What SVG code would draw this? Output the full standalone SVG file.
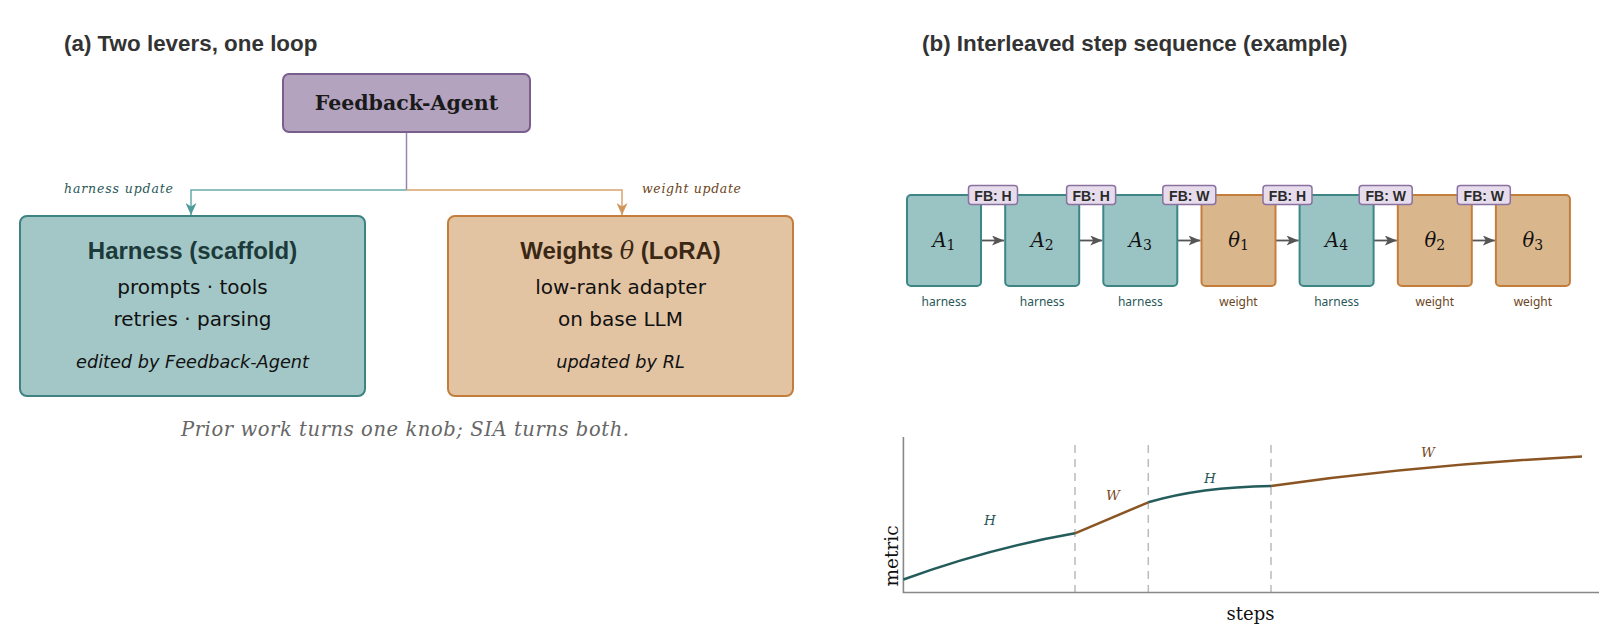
<svg xmlns="http://www.w3.org/2000/svg" width="1624" height="640" viewBox="0 0 1624 640">
<style>
.title{font-family:"Liberation Sans",Arial,sans-serif;font-weight:bold;font-size:22.4px;fill:#333}
.serif{font-family:"DejaVu Serif",serif}
.bigT{font-family:"Liberation Sans",Arial,sans-serif;font-weight:bold;font-size:24px}
.body{font-family:"DejaVu Sans",sans-serif;font-size:20px;fill:#111}
.ital{font-family:"DejaVu Sans",sans-serif;font-style:italic;font-size:17.7px;fill:#111}
.fb rect{fill:#e7dcec;stroke:#8a72a0;stroke-width:1.5}
.fb text{font-family:"Liberation Sans",Arial,sans-serif;font-weight:bold;font-size:14px;fill:#2a2a2a}
.hbox{fill:#9ac3c3;stroke:#3e8686;stroke-width:2}
.wbox{fill:#dab68c;stroke:#c47e3c;stroke-width:2}
.math{font-family:"DejaVu Serif",serif;font-style:italic;font-size:19.5px;fill:#111}
.sub{font-family:"DejaVu Serif",serif;font-style:normal;font-size:14px}
.lblh{font-family:"Noto Sans",sans-serif;font-size:12px;fill:#2a5858}
.lblw{font-family:"Noto Sans",sans-serif;font-size:12px;fill:#6b4520}
.seq{stroke:#555;stroke-width:1.8;fill:none}
.dash{stroke:#bbb;stroke-width:1.5;stroke-dasharray:8,6;fill:none}
.axis{stroke:#888;stroke-width:1.6;fill:none}
.ch{font-family:"DejaVu Serif",serif;font-style:italic;font-size:13.5px}
</style>
<defs>
<marker id="arrG" markerWidth="14" markerHeight="12" refX="12" refY="5" orient="auto" markerUnits="userSpaceOnUse">
<path d="M0,0 L12,5 L0,10 L3,5 z" fill="#555"/>
</marker>
<marker id="arrT" markerWidth="12" markerHeight="14" refX="5.5" refY="12" orient="0" markerUnits="userSpaceOnUse">
<path d="M0,0 L5.5,12 L11,0 L5.5,3.5 z" fill="#4f9a9a"/>
</marker>
<marker id="arrO" markerWidth="12" markerHeight="14" refX="5.5" refY="12" orient="0" markerUnits="userSpaceOnUse">
<path d="M0,0 L5.5,12 L11,0 L5.5,3.5 z" fill="#cf9658"/>
</marker>
</defs>
<rect width="1624" height="640" fill="#fff"/>

<text class="title" x="64" y="51">(a) Two levers, one loop</text>
<text class="title" x="922" y="51">(b) Interleaved step sequence (example)</text>

<g id="connectors">
<path d="M406.5,132 V190" stroke="#9a84ab" stroke-width="1.5" fill="none"/>
<path d="M406.5,190 H191 V215" stroke="#6aaaaa" stroke-width="1.5" fill="none" marker-end="url(#arrT)"/>
<path d="M406.5,190 H622 V215" stroke="#d8a46e" stroke-width="1.5" fill="none" marker-end="url(#arrO)"/>
<text class="serif" x="64" y="193" font-style="italic" font-size="12.5" fill="#2a5858" textLength="109">harness update</text>
<text class="serif" x="642" y="193" font-style="italic" font-size="12.5" fill="#6b4520" textLength="99">weight update</text>
<path class="seq" d="M981,240.5 H1004" marker-end="url(#arrG)"/>
<path class="seq" d="M1079.2,240.5 H1102.3" marker-end="url(#arrG)"/>
<path class="seq" d="M1177.3,240.5 H1200.5" marker-end="url(#arrG)"/>
<path class="seq" d="M1275.5,240.5 H1298.6" marker-end="url(#arrG)"/>
<path class="seq" d="M1373.6,240.5 H1396.8" marker-end="url(#arrG)"/>
<path class="seq" d="M1471.8,240.5 H1494.9" marker-end="url(#arrG)"/>
</g>

<g id="feedback-agent">
<rect x="283" y="74" width="247" height="58" rx="6" fill="#b3a3bf" stroke="#7a5f8e" stroke-width="2"/>
<text class="serif" x="406.5" y="110" text-anchor="middle" font-weight="bold" font-size="20.5" fill="#1a1a1a">Feedback-Agent</text>
</g>

<g id="harness">
<rect x="20" y="216" width="345" height="180" rx="7" fill="#a3c7c7" stroke="#3e8282" stroke-width="2"/>
<text class="bigT" x="192.5" y="259" text-anchor="middle" fill="#1c3a3a">Harness (scaffold)</text>
<text class="body" x="192.5" y="294" text-anchor="middle">prompts · tools</text>
<text class="body" x="192.5" y="326" text-anchor="middle">retries · parsing</text>
<text class="ital" x="192.5" y="368" text-anchor="middle">edited by Feedback-Agent</text>
</g>

<g id="weights">
<rect x="448" y="216" width="345" height="180" rx="7" fill="#e2c4a3" stroke="#c47e3c" stroke-width="2"/>
<text class="bigT" x="620.5" y="259" text-anchor="middle" fill="#3b2814">Weights <tspan font-family="DejaVu Serif,serif" font-style="italic" font-weight="normal">θ</tspan> (LoRA)</text>
<text class="body" x="620.5" y="294" text-anchor="middle">low-rank adapter</text>
<text class="body" x="620.5" y="326" text-anchor="middle">on base LLM</text>
<text class="ital" x="620.5" y="368" text-anchor="middle">updated by RL</text>
</g>

<text class="serif" x="405" y="436" text-anchor="middle" font-style="italic" font-size="19.5" fill="#666" textLength="448">Prior work turns one knob; SIA turns both.</text>

<g id="A1"><rect class="hbox" x="907" y="195" width="74" height="91" rx="4"/><text class="math" x="944" y="247" text-anchor="middle">A<tspan class="sub" dy="3">1</tspan></text><text class="lblh" x="944" y="306" text-anchor="middle">harness</text></g>
<g id="A2"><rect class="hbox" x="1005.2" y="195" width="74" height="91" rx="4"/><text class="math" x="1042.2" y="247" text-anchor="middle">A<tspan class="sub" dy="3">2</tspan></text><text class="lblh" x="1042.2" y="306" text-anchor="middle">harness</text></g>
<g id="A3"><rect class="hbox" x="1103.3" y="195" width="74" height="91" rx="4"/><text class="math" x="1140.3" y="247" text-anchor="middle">A<tspan class="sub" dy="3">3</tspan></text><text class="lblh" x="1140.3" y="306" text-anchor="middle">harness</text></g>
<g id="theta1"><rect class="wbox" x="1201.5" y="195" width="74" height="91" rx="4"/><text class="math" x="1238.5" y="247" text-anchor="middle">θ<tspan class="sub" dy="3">1</tspan></text><text class="lblw" x="1238.5" y="306" text-anchor="middle">weight</text></g>
<g id="A4"><rect class="hbox" x="1299.6" y="195" width="74" height="91" rx="4"/><text class="math" x="1336.6" y="247" text-anchor="middle">A<tspan class="sub" dy="3">4</tspan></text><text class="lblh" x="1336.6" y="306" text-anchor="middle">harness</text></g>
<g id="theta2"><rect class="wbox" x="1397.8" y="195" width="74" height="91" rx="4"/><text class="math" x="1434.8" y="247" text-anchor="middle">θ<tspan class="sub" dy="3">2</tspan></text><text class="lblw" x="1434.8" y="306" text-anchor="middle">weight</text></g>
<g id="theta3"><rect class="wbox" x="1495.9" y="195" width="74" height="91" rx="4"/><text class="math" x="1532.9" y="247" text-anchor="middle">θ<tspan class="sub" dy="3">3</tspan></text><text class="lblw" x="1532.9" y="306" text-anchor="middle">weight</text></g>

<g id="fb-labels" class="fb">
<rect x="968.5" y="185.5" width="49" height="19" rx="3"/><text x="993" y="200.5" text-anchor="middle">FB: H</text>
<rect x="1066.6" y="185.5" width="49" height="19" rx="3"/><text x="1091.1" y="200.5" text-anchor="middle">FB: H</text>
<rect x="1162.8" y="185.5" width="53" height="19" rx="3"/><text x="1189.3" y="200.5" text-anchor="middle">FB: W</text>
<rect x="1263" y="185.5" width="49" height="19" rx="3"/><text x="1287.5" y="200.5" text-anchor="middle">FB: H</text>
<rect x="1359.2" y="185.5" width="53" height="19" rx="3"/><text x="1385.7" y="200.5" text-anchor="middle">FB: W</text>
<rect x="1457.3" y="185.5" width="53" height="19" rx="3"/><text x="1483.8" y="200.5" text-anchor="middle">FB: W</text>
</g>

<g id="chart">
<path class="dash" d="M1075,445 V592"/>
<path class="dash" d="M1148.3,445 V592"/>
<path class="dash" d="M1271,445 V592"/>
<path class="axis" d="M903.4,437 V592.5 H1599"/>
<path d="M903.4,579.5 Q990,548 1075,533.3" stroke="#245c5c" stroke-width="2.5" fill="none"/>
<path d="M1075,533.3 L1148.3,502.3" stroke="#8b5523" stroke-width="2.5" fill="none"/>
<path d="M1148.3,502.3 Q1200,487 1271,486" stroke="#245c5c" stroke-width="2.5" fill="none"/>
<path d="M1271,486 Q1420,465 1582,456.5" stroke="#8b5523" stroke-width="2.5" fill="none"/>
<text class="ch" x="990" y="524.5" text-anchor="middle" fill="#2a5858">H</text>
<text class="ch" x="1113" y="499.5" text-anchor="middle" fill="#7a4a1e">W</text>
<text class="ch" x="1210" y="482.5" text-anchor="middle" fill="#2a5858">H</text>
<text class="ch" x="1428" y="457" text-anchor="middle" fill="#7a4a1e">W</text>
<text class="serif" x="1250.5" y="620" text-anchor="middle" font-size="18" fill="#111">steps</text>
<text class="serif" transform="translate(898,556) rotate(-90)" text-anchor="middle" font-size="18.5" fill="#111">metric</text>
</g>
</svg>
